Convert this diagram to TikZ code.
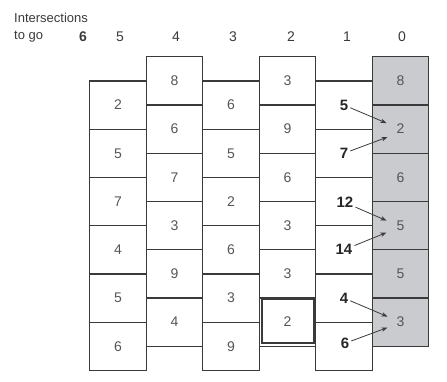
\documentclass[tikz,border=0pt]{standalone}
\usepackage{fontspec}
\setmainfont{Liberation Sans}
\usetikzlibrary{arrows.meta,calc}

\definecolor{ink}{HTML}{3A3A3A}
\definecolor{numgray}{HTML}{555555}
\definecolor{shade}{HTML}{CACBCF}

\begin{document}
\begin{tikzpicture}[x=1pt,y=-1pt,
  cell/.style={draw=ink,line width=1.4pt,minimum width=56.5pt,minimum height=48.25pt,
    inner sep=0pt,anchor=north west,text=numgray,font=\fontsize{14}{14}\selectfont},
  goal/.style={cell,fill=shade},
  lab/.style={inner sep=2pt,text=black!85,font=\fontsize{15}{15}\selectfont\bfseries},
  head/.style={inner sep=0pt,text=ink,font=\fontsize{14}{14}\selectfont},
  arr/.style={draw=ink,line width=0.8pt,-{Stealth[length=6pt,width=4.5pt]}}]
\useasboundingbox (0,0) rectangle (447,381);

% column headings
\node[head,anchor=west,font=\fontsize{13}{13}\selectfont] (title) at (14,18) {Intersections};
\node[head,anchor=west,font=\fontsize{13}{13}\selectfont] (togo) at (14,37) {to go};
\node[head,font=\fontsize{14}{14}\selectfont\bfseries] (h6) at (83,37) {6};
\node[head] (h5) at (120,37) {5};
\node[head] (h4) at (176,37) {4};
\node[head] (h3) at (233,37) {3};
\node[head] (h2) at (291,37) {2};
\node[head] (h1) at (347,37) {1};
\node[head] (h0) at (402,37) {0};

% staggered columns of blocks
\foreach \v [count=\i] in {2,5,7,4,5,6}
  \node[cell] (c5-\i) at (89,{80.25+(\i-1)*48.25}) {\v};
\foreach \v [count=\i] in {8,6,7,3,9,4}
  \node[cell] (c4-\i) at (145.5,{56+(\i-1)*48.25}) {\v};
\foreach \v [count=\i] in {6,5,2,6,3,9}
  \node[cell] (c3-\i) at (202,{80.25+(\i-1)*48.25}) {\v};
\foreach \v [count=\i] in {3,9,6,3,3,2}
  \node[cell] (c2-\i) at (258.5,{56+(\i-1)*48.25}) {\v};
\foreach \i in {1,...,6}
  \node[cell] (c1-\i) at (315,{80.25+(\i-1)*48.25}) {};
\foreach \v [count=\i] in {8,2,6,5,5,3}
  \node[goal] (c0-\i) at (371.5,{56+(\i-1)*48.25}) {\v};

% highlighted block
\draw[draw=ink,line width=2.8pt] ($(c2-6.north west)+(3.5,1.5)$) rectangle ($(c2-6.south east)+(-2,-4)$);

% values one intersection from the end
\node[lab] (v1) at (c1-1) {5};
\node[lab] (v2) at (c1-2) {7};
\node[lab] (v3) at ($(c1-3)+(1,1)$) {12};
\node[lab] (v4) at ($(c1-4)+(0,0)$) {14};
\node[lab] (v5) at (c1-5) {4};
\node[lab] (v6) at ($(c1-6)+(1,-3)$) {6};

% arrow ends beside the target values
\coordinate (e1) at ($(c0-2.center)+(-14,-6)$);
\coordinate (e2) at ($(c0-2.center)+(-13,8)$);
\coordinate (e3) at ($(c0-4.center)+(-14,-5)$);
\coordinate (e4) at ($(c0-4.center)+(-14,7)$);
\coordinate (e5) at ($(c0-6.center)+(-13,-5.5)$);
\coordinate (e6) at ($(c0-6.center)+(-13,5.5)$);

\draw[arr] (v1) -- (e1);
\draw[arr] (v2) -- (e2);
\draw[arr] (v3) -- (e3);
\draw[arr] (v4) -- (e4);
\draw[arr] (v5) -- (e5);
\draw[arr] (v6) -- (e6);
\end{tikzpicture}
\end{document}
